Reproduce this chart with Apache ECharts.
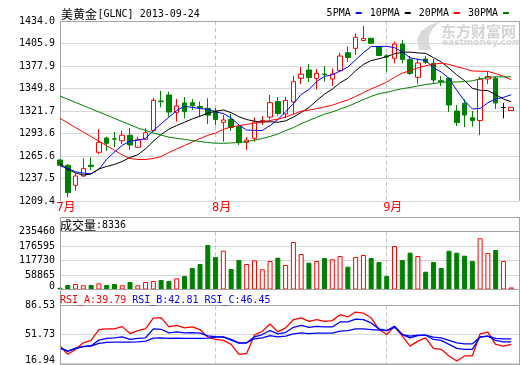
<!DOCTYPE html>
<html><head><meta charset="utf-8">
<script src="https://cdn.jsdelivr.net/npm/echarts@6/dist/echarts.min.js"></script>
<style>html,body{margin:0;padding:0;background:#fff;}#c{width:520px;height:365px;}</style>
</head><body><div id="c"></div>
<script>
const dates = ['2013-07-03','2013-07-05','2013-07-08','2013-07-09','2013-07-10','2013-07-11','2013-07-12','2013-07-15','2013-07-16','2013-07-17','2013-07-18','2013-07-19','2013-07-22','2013-07-23','2013-07-24','2013-07-25','2013-07-26','2013-07-29','2013-07-30','2013-07-31',
'2013-08-01','2013-08-02','2013-08-05','2013-08-06','2013-08-07','2013-08-08','2013-08-09','2013-08-12','2013-08-13','2013-08-14','2013-08-15','2013-08-16','2013-08-19','2013-08-20','2013-08-21','2013-08-22','2013-08-23','2013-08-26','2013-08-27','2013-08-28','2013-08-29','2013-08-30',
'2013-09-02','2013-09-03','2013-09-04','2013-09-05','2013-09-06','2013-09-09','2013-09-10','2013-09-11','2013-09-12','2013-09-13','2013-09-16','2013-09-17','2013-09-18','2013-09-19','2013-09-20','2013-09-23','2013-09-24'];

const opens = [1260.6,1254.0,1229.0,1240.6,1254.0,1270.2,1288.0,1287.0,1284.6,1291.4,
1276.4,1286.4,1297.1,1334.2,1341.7,1320.0,1331.7,1332.0,1327.3,1325.0,
1321.7,1307.6,1311.3,1302.1,1282.6,1287.6,1309.2,1314.2,1333.6,1318.0,
1333.0,1362.5,1372.9,1362.5,1367.9,1361.6,1372.0,1394.4,1399.9,1409.7,
1412.4,1401.9,1390.5,1387.5,1405.3,1386.0,1363.7,1386.6,1381.2,1359.5,
1362.5,1321.7,1331.3,1313.3,1309.8,1361.6,1362.5,1326.0,1322.3];
const closes = [1254.0,1219.8,1240.6,1250.0,1252.5,1282.6,1281.4,1286.5,1291.4,1279.3,
1286.4,1294.6,1335.0,1333.3,1320.4,1328.0,1320.8,1328.3,1326.0,1316.5,
1311.0,1310.5,1301.0,1282.2,1285.5,1308.3,1310.0,1332.1,1318.6,1334.8,
1358.3,1367.5,1363.5,1368.7,1367.1,1367.9,1390.3,1388.5,1413.7,1412.2,
1406.2,1391.0,1389.0,1405.3,1386.0,1368.5,1381.6,1382.5,1360.4,1358.5,
1329.2,1307.3,1316.7,1309.8,1361.3,1364.7,1331.7,1326.0,1326.3];
const lows = [1253.5,1214.0,1222.2,1239.4,1248.0,1267.7,1272.0,1276.4,1280.5,1273.0,
1276.0,1285.5,1295.9,1326.3,1314.6,1308.3,1312.6,1323.0,1315.0,1305.5,
1304.0,1283.4,1297.0,1279.3,1273.0,1283.4,1304.2,1311.3,1316.0,1313.0,
1318.0,1355.4,1357.9,1348.5,1358.5,1352.9,1370.7,1382.8,1391.6,1408.7,
1405.3,1390.0,1370.7,1381.2,1381.2,1366.6,1355.4,1380.3,1356.0,1352.9,
1320.4,1303.0,1301.7,1302.1,1291.7,1355.4,1324.2,1312.6,1322.0];
const highs = [1261.0,1255.2,1244.0,1262.7,1264.0,1299.2,1289.6,1295.5,1297.0,1300.5,
1289.6,1300.0,1338.3,1346.7,1345.8,1336.7,1339.2,1336.7,1333.5,1337.5,
1325.4,1316.7,1318.0,1305.5,1289.3,1313.8,1315.5,1341.7,1339.2,1339.5,
1365.4,1376.6,1380.3,1374.0,1377.8,1374.7,1394.4,1402.0,1418.4,1427.8,
1413.0,1402.8,1392.8,1408.2,1410.3,1390.3,1387.2,1390.3,1386.6,1365.4,
1363.5,1329.2,1336.3,1321.7,1364.5,1370.7,1364.7,1331.7,1326.5];

const ma5 = [1253.3,1250.0,1246.0,1244.2,1243.4,1249.1,1261.4,1270.6,1278.9,1284.2,
1285.0,1287.6,1297.3,1305.7,1313.9,1322.3,1327.5,1326.2,1324.7,1323.9,
1320.5,1318.5,1313.0,1304.2,1298.0,1297.5,1297.4,1303.6,1310.9,1320.8,
1330.8,1342.3,1348.5,1358.6,1365.0,1366.9,1371.5,1376.5,1385.5,1394.5,
1402.2,1402.3,1402.4,1400.7,1395.5,1388.0,1386.1,1384.8,1375.8,1370.3,
1362.4,1347.6,1334.4,1324.3,1324.9,1332.0,1336.8,1338.7,1342.0];
const ma10 = [1256.4,1248.7,1244.3,1241.8,1243.1,1249.4,1252.5,1255.0,1258.7,1263.8,
1267.1,1274.5,1284.0,1292.3,1299.1,1303.6,1307.6,1311.8,1315.2,1318.9,
1321.4,1323.0,1319.6,1314.5,1311.0,1309.0,1307.9,1308.3,1307.6,1309.4,
1314.1,1319.8,1326.1,1334.7,1342.9,1348.9,1356.9,1362.5,1372.0,1379.8,
1384.6,1386.9,1389.5,1393.1,1395.0,1395.1,1394.2,1393.6,1388.3,1382.9,
1375.2,1366.8,1359.6,1350.1,1347.6,1347.2,1342.2,1336.6,1333.2];
const ma20 = [1312.6,1306.8,1301.1,1295.5,1289.8,1284.0,1278.4,1272.7,1266.9,1262.4,
1261.2,1261.2,1262.4,1264.9,1269.9,1274.3,1278.6,1283.0,1287.4,1291.4,
1294.2,1298.8,1301.8,1303.4,1305.0,1306.3,1307.8,1310.0,1311.4,1314.2,
1317.8,1321.4,1322.8,1324.6,1326.9,1328.9,1332.4,1335.4,1339.8,1344.6,
1349.3,1353.4,1357.8,1363.9,1369.0,1372.0,1375.5,1378.1,1380.2,1381.3,
1379.9,1376.9,1374.5,1371.6,1371.3,1371.1,1368.2,1365.1,1360.7];
const ma30 = [1340.4,1336.4,1332.4,1328.4,1324.4,1320.5,1316.5,1312.5,1308.5,1304.5,
1300.5,1297.4,1294.2,1291.7,1289.0,1287.6,1286.3,1284.9,1283.6,1282.4,
1281.5,1281.4,1281.8,1282.4,1283.6,1285.3,1287.4,1289.9,1293.0,1297.4,
1300.9,1305.8,1309.9,1313.8,1317.7,1320.5,1324.1,1327.5,1331.6,1336.0,
1340.0,1343.2,1345.0,1347.4,1349.6,1351.0,1353.0,1354.8,1356.0,1357.4,
1358.0,1357.9,1358.4,1359.3,1361.8,1363.7,1364.4,1364.2,1364.5];

const volume = [7300,18300,22300,17000,18300,25000,18300,22300,17000,30500,
17000,30500,34500,38600,34500,45300,54800,87300,103500,180700,
132000,157500,83200,119800,103500,118500,82000,115700,129100,99500,
192900,144100,108800,115700,127900,122600,136000,92600,132000,140100,
127900,111700,54800,176600,119800,149400,136000,72300,111700,87300,
157500,149400,137200,115700,207900,148200,160400,115700,8336];

const rsiA = [37.9,28.0,33.9,41.8,44.6,57.7,58.5,58.5,61.2,52.9,
56.5,58.8,71.5,71.9,60.8,62.8,59.6,60.8,57.7,48.5,
45.8,44.6,39.8,28.0,29.2,50.9,55.6,64.4,54.9,59.7,
69.5,71.6,67.5,69.5,67.5,68.4,75.5,72.8,78.7,77.5,
71.6,57.7,51.7,61.6,49.7,37.8,43.8,47.8,35.1,33.9,
26.0,20.0,26.0,26.0,52.6,54.5,39.9,37.8,39.79];
const rsiB = [35.9,31.9,35.1,37.5,38.3,45.0,47.0,47.8,49.0,45.8,
47.0,47.8,58.5,58.0,53.7,54.9,53.7,54.1,53.3,50.1,
49.3,49.0,45.0,41.4,41.8,49.0,51.7,56.5,52.5,54.1,
60.4,62.8,60.4,61.6,60.8,60.8,66.8,66.8,70.3,69.5,
65.6,58.5,56.5,61.6,51.7,47.8,50.5,50.9,45.8,44.6,
39.8,35.1,33.9,33.9,49.0,49.7,44.6,43.0,42.81];
const rsiC = [35.1,31.9,35.1,37.1,37.9,41.0,42.2,42.6,42.6,42.6,
43.0,43.8,47.4,47.8,47.0,47.4,47.0,47.0,47.0,47.4,
48.5,48.5,45.8,41.8,41.8,46.6,47.8,50.5,49.0,49.7,
52.5,53.7,52.9,53.3,53.3,53.3,55.7,56.5,58.5,58.5,
57.7,56.9,56.5,60.4,51.7,49.7,50.9,50.9,48.5,47.8,
44.6,41.8,40.6,40.6,48.5,49.7,47.0,46.6,46.45];

const priceTicks = ['1209.4','1237.5','1265.6','1293.6','1321.7','1349.8','1377.9','1405.9','1434.0'];
const volTicks = ['0','58865','117730','176595','235460'];
const rsiTicks = ['16.94','51.73','86.53'];

const MONO = '"DejaVu Sans Mono", monospace';
const CJK = '"Noto Sans CJK SC"';
const GRID_C = '#d8d8d8', FRAME_C = '#a4a4a4', DASH_C = '#c4c4c4';
const RED = '#ff0000', GREEN = '#008000', BLUE = '#0000ff';

const isMonthStart = i => i >= 0 && i < dates.length && (i === 0 || dates[i].slice(5, 7) !== dates[i - 1].slice(5, 7));

function xAxisFor(gi, showLabel) {
  return {
    type: 'category', gridIndex: gi, data: dates, boundaryGap: false, max: dates.length,
    axisLine: { show: false }, axisTick: { show: false },
    axisLabel: showLabel ? {
      show: true, interval: (i) => isMonthStart(i), showMinLabel: true, hideOverlap: false,
      formatter: (v) => v ? (parseInt(v.slice(5, 7), 10) + '月') : '',
      color: RED, fontSize: 12, fontFamily: MONO + ', ' + CJK, margin: 1, align: 'center', padding: [0, 0, 0, 12]
    } : { show: false },
    splitLine: { show: true, interval: (i) => isMonthStart(i), lineStyle: { color: DASH_C, type: [4, 3], width: 1 } }
  };
}
const labelStyle = { color: '#000', fontFamily: MONO, fontSize: 10, margin: 5 };
const bottomRich = { b: { padding: [0, 0, 7, 0], color: '#000', fontFamily: MONO, fontSize: 10 } };

function maLine(name, data, color) {
  return { type: 'line', name, data, xAxisIndex: 0, yAxisIndex: 1, showSymbol: false, symbol: 'none',
    color, itemStyle: { color }, lineStyle: { width: 1, color }, emphasis: { disabled: true }, silent: true, z: 3 };
}
function rsiLine(name, data, color) {
  return { type: 'line', name, data, xAxisIndex: 2, yAxisIndex: 4, showSymbol: false, symbol: 'none',
    color, itemStyle: { color }, lineStyle: { width: 1.3, color }, emphasis: { disabled: true }, silent: true, z: 3 };
}
function txt(x, y, text, font, fill, z) {
  return { type: 'text', x, y, silent: true, z: z == null ? 10 : z,
    style: { text, font, fill, align: 'left', verticalAlign: 'middle' } };
}
function ln(x1, y1, x2, y2) {
  return { type: 'line', silent: true, z: 6, shape: { x1, y1, x2, y2 }, style: { stroke: FRAME_C, lineWidth: 1 } };
}

const last = dates.length - 1;
const chart = echarts.init(document.getElementById('c'), null, { renderer: 'canvas' });
chart.setOption({
  animation: false,
  backgroundColor: '#ffffff',
  grid: [
    { left: 60, top: 21, width: 459, height: 180 },
    { left: 60, top: 231.5, width: 459, height: 58 },
    { left: 60, top: 305.5, width: 459, height: 58.5 }
  ],
  legend: {
    data: ['5PMA', '10PMA', '20PMA', '30PMA'], right: 11, top: 8, align: 'right', icon: 'rect',
    itemWidth: 6, itemHeight: 2, itemGap: 8, padding: 0, selectedMode: false,
    textStyle: { fontFamily: MONO, fontSize: 10, color: '#000' }
  },
  xAxis: [xAxisFor(0, true), xAxisFor(1, false), xAxisFor(2, false)],
  yAxis: [
    { type: 'value', gridIndex: 0, min: 0, max: 8, interval: 1, position: 'left',
      axisLine: { show: true, lineStyle: { color: FRAME_C } }, axisTick: { show: false },
      axisLabel: Object.assign({ formatter: (v) => priceTicks[Math.round(v)], showMinLabel: true, showMaxLabel: true }, labelStyle),
      splitLine: { show: true, lineStyle: { color: GRID_C } } },
    { type: 'value', gridIndex: 0, min: 1209.4, max: 1434.0, show: false },
    { type: 'value', gridIndex: 1, min: 0, max: 235460, interval: 58865, position: 'left',
      axisLine: { show: true, lineStyle: { color: FRAME_C } }, axisTick: { show: false },
      axisLabel: Object.assign({ formatter: (v) => { const k = Math.round(v / 58865); return k === 0 ? '{b|' + volTicks[0] + '}' : volTicks[k]; }, rich: bottomRich, showMinLabel: true, showMaxLabel: true }, labelStyle),
      splitLine: { show: true, lineStyle: { color: GRID_C } } },
    { type: 'value', gridIndex: 2, min: 0, max: 2, interval: 1, position: 'left',
      axisLine: { show: true, lineStyle: { color: FRAME_C } }, axisTick: { show: false },
      axisLabel: Object.assign({ formatter: (v) => Math.round(v) === 0 ? '{b|' + rsiTicks[0] + '}' : rsiTicks[Math.round(v)], rich: bottomRich, showMinLabel: true, showMaxLabel: true }, labelStyle),
      splitLine: { show: true, lineStyle: { color: GRID_C } } },
    { type: 'value', gridIndex: 2, min: 16.94, max: 86.53, show: false }
  ],
  series: [
    { type: 'candlestick', name: 'K', xAxisIndex: 0, yAxisIndex: 1, barWidth: 5, clip: false, silent: true,
      data: opens.map((o, i) => [o, closes[i], lows[i], highs[i]]),
      itemStyle: { color: '#ffffff', color0: GREEN, borderColor: RED, borderColor0: GREEN, borderColorDoji: '#000000', borderWidth: 1 },
      emphasis: { disabled: true }, z: 2 },
    maLine('5PMA', ma5, BLUE),
    maLine('10PMA', ma10, '#000000'),
    maLine('20PMA', ma20, RED),
    maLine('30PMA', ma30, GREEN),
    { type: 'bar', name: 'VOL', xAxisIndex: 1, yAxisIndex: 2, barWidth: 5, clip: false, silent: true,
      data: volume.map((v, i) => ({ value: v, itemStyle: closes[i] >= opens[i]
        ? { color: '#ffffff', borderColor: RED, borderWidth: 1 }
        : { color: GREEN, borderColor: GREEN, borderWidth: 1 } })),
      emphasis: { disabled: true } },
    rsiLine('RSI_A', rsiA, RED),
    rsiLine('RSI_B', rsiB, BLUE),
    rsiLine('RSI_C', rsiC, BLUE)
  ],
  graphic: [
    { type: 'polygon', silent: true, z: 0, shape: { points: [[419, 50], [417, 40], [421, 31], [430, 25], [441, 21], [433, 28], [429, 36], [429, 43], [431, 50]] }, style: { fill: '#dadada' } },
    txt(441, 31, '东方财富网', 'bold 15px ' + CJK, '#d4d4d4', 0),
    txt(442, 43, 'eastmoney.com', 'bold 9px "DejaVu Sans"', '#d4d4d4', 0),
    ln(60, 21.5, 520, 21.5),
    ln(519.5, 21, 519.5, 201),
    ln(60, 217.5, 520, 217.5),
    ln(60.5, 217, 60.5, 365),
    ln(519.5, 217, 519.5, 365),
    ln(60, 231.5, 520, 231.5),
    ln(60, 289.5, 520, 289.5),
    ln(60, 305.5, 520, 305.5),
    ln(60, 364.5, 520, 364.5),
    txt(61, 14, '美黄金', '12px ' + CJK, '#000'),
    txt(97.5, 14, '[GLNC] ' + dates[last], '10px ' + MONO, '#000'),
    txt(60, 225, '成交量', '12px ' + CJK, '#000'),
    txt(96, 225, ':' + volume[last], '10px ' + MONO, '#000'),
    txt(60, 300, 'RSI_A:' + rsiA[last].toFixed(2), '10px ' + MONO, RED),
    txt(132.2, 300, 'RSI_B:' + rsiB[last].toFixed(2), '10px ' + MONO, BLUE),
    txt(204.4, 300, 'RSI_C:' + rsiC[last].toFixed(2), '10px ' + MONO, BLUE)
  ]
});
</script>
</body></html>
